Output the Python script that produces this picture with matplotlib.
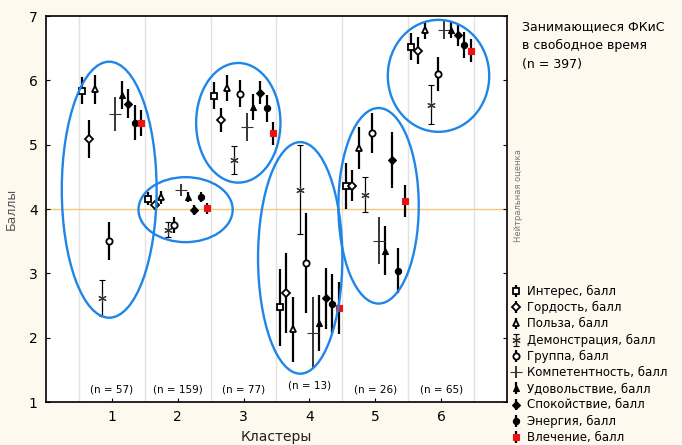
import matplotlib
matplotlib.use('Agg')
import matplotlib.pyplot as plt
from matplotlib.patches import Ellipse
import numpy as np

plt.rcParams['font.family'] = ['DejaVu Sans']

clusters = [1, 2, 3, 4, 5, 6]
n_labels = ['(n = 57)', '(n = 159)', '(n = 77)', '(n = 13)', '(n = 26)', '(n = 65)']

series_names = ['Интерес, балл', 'Гордость, балл', 'Польза, балл', 'Демонстрация, балл',
                'Группа, балл', 'Компетентность, балл', 'Удовольствие, балл',
                'Спокойствие, балл', 'Энергия, балл', 'Влечение, балл']

# средние по кластерам
interes = [5.84, 4.16, 5.76, 2.47, 4.36, 6.52]
gordost = [5.09, 4.06, 5.38, 2.69, 4.36, 6.46]
polza = [5.86, 4.18, 5.88, 2.13, 4.95, 6.79]
demonstr = [2.62, 3.68, 4.76, 4.30, 4.22, 5.62]
gruppa = [3.50, 3.75, 5.79, 3.16, 5.18, 6.10]
kompet = [5.48, 4.30, 5.28, 2.08, 3.51, 6.79]
udovol = [5.77, 4.19, 5.59, 2.23, 3.35, 6.79]
spokoj = [5.64, 3.99, 5.81, 2.61, 4.76, 6.71]
energ = [5.34, 4.19, 5.57, 2.53, 3.04, 6.55]
vlech = [5.34, 4.01, 5.18, 2.46, 4.13, 6.46]

# полуширина доверительных интервалов
interes_err = [0.21, 0.10, 0.21, 0.60, 0.36, 0.21]
gordost_err = [0.29, 0.07, 0.19, 0.62, 0.24, 0.21]
polza_err = [0.23, 0.10, 0.20, 0.51, 0.33, 0.14]
demonstr_err = [0.28, 0.12, 0.22, 0.69, 0.27, 0.30]
gruppa_err = [0.30, 0.12, 0.21, 0.78, 0.31, 0.27]
kompet_err = [0.26, 0.09, 0.22, 0.55, 0.37, 0.15]
udovol_err = [0.22, 0.08, 0.20, 0.44, 0.38, 0.13]
spokoj_err = [0.23, 0.08, 0.18, 0.47, 0.44, 0.17]
energ_err = [0.27, 0.08, 0.21, 0.46, 0.35, 0.20]
vlech_err = [0.20, 0.09, 0.18, 0.40, 0.25, 0.18]

means = [interes, gordost, polza, demonstr, gruppa, kompet, udovol, spokoj, energ, vlech]
errs = [interes_err, gordost_err, polza_err, demonstr_err, gruppa_err, kompet_err,
        udovol_err, spokoj_err, energ_err, vlech_err]

# стиль маркеров: (marker, facecolor, size, толщина бара, caps)
styles = [('s', 'white', 4.5, 1.6, 0),
          ('D', 'white', 4, 1.6, 0),
          ('^', 'white', 4, 1.6, 0),
          ((6, 2, 0), 'none', 6, 0.9, 2),
          ('o', 'white', 4.5, 1.6, 0),
          ('_', 'none', 8, 1.1, 0),
          ('^', 'black', 4.5, 1.6, 0),
          ('D', 'black', 4, 1.6, 0),
          ('o', 'black', 4.5, 1.6, 0),
          ('s', '#ee1111', 5, 1.6, 0)]

# эллипсы кластеров: центр x, центр y, ширина, высота
ell_x = [0.96, 2.12, 2.92, 3.86, 5.05, 5.96]
ell_y = [4.30, 3.99, 5.34, 3.24, 4.05, 6.07]
ell_w = [1.44, 1.43, 1.28, 1.28, 1.22, 1.54]
ell_h = [3.98, 1.01, 1.86, 3.60, 3.04, 1.74]

fig = plt.figure(figsize=(6.82, 4.45), dpi=100, facecolor='#fdf9ee')
ax = fig.add_axes([0.0674, 0.0966, 0.676, 0.8674])
ax.set_facecolor('white')

for xg in np.arange(0.5, 7, 1):
    ax.axvline(xg, color='#e2e2e2', lw=1, zorder=0)
ax.axhline(4, color='#f2c77a', lw=1, zorder=1)

x = np.array(clusters, dtype=float)
handles = []
for i, name in enumerate(series_names):
    mk, fc, ms, lw, cs = styles[i]
    off = -0.45 + 0.1 * i
    col = '#333333' if i in (3, 5) else 'black'
    ec = '#ee1111' if i == 9 else col
    h = ax.errorbar(x + off, means[i], yerr=errs[i], fmt='', marker=mk, linestyle='none',
                    mfc=fc, mec=ec, mew=1.3 if fc == 'white' else 0.8,
                    ms=ms, ecolor='black', elinewidth=lw, capsize=cs, capthick=0.9,
                    color=col, label=name, zorder=3)
    handles.append(h)

for cx, cy, w, hgt in zip(ell_x, ell_y, ell_w, ell_h):
    ax.add_patch(Ellipse((cx, cy), w, hgt, fill=False, edgecolor='#1f86e8', lw=1.7,
                         zorder=4, clip_on=False))

for c, lab in zip(clusters, n_labels):
    yy = 1.25 if lab == '(n = 13)' else 1.19
    ax.text(c, yy, lab, ha='center', va='center', fontsize=7.5)

ax.set_xlim(0, 7)
ax.set_ylim(1, 7)
ax.set_xticks(clusters)
ax.set_yticks(range(1, 8))
ax.tick_params(direction='in', labelsize=10, length=3, right=True, pad=6)
ax.set_xlabel('Кластеры', fontsize=10, color='#222222', labelpad=4)
ax.set_ylabel('Баллы', fontsize=9, color='#555555', labelpad=8)
for sp in ax.spines.values():
    sp.set_linewidth(1.2)

fig.text(0.765, 0.955, 'Занимающиеся ФКиС\nв свободное время\n(n = 397)',
         fontsize=9, va='top', ha='left', linespacing=1.6)
fig.text(0.76, 0.56, 'Нейтральная оценка', rotation=90, fontsize=6, color='#777777',
         ha='center', va='center')

fig.legend(handles=handles, loc='upper left', bbox_to_anchor=(0.749, 0.36),
           bbox_transform=fig.transFigure, frameon=False, fontsize=8.5,
           handlelength=0.8, handleheight=0.6, handletextpad=0.6, labelspacing=0.27,
           borderpad=0, borderaxespad=0)

fig.savefig('out.png', dpi=100, facecolor=fig.get_facecolor())
